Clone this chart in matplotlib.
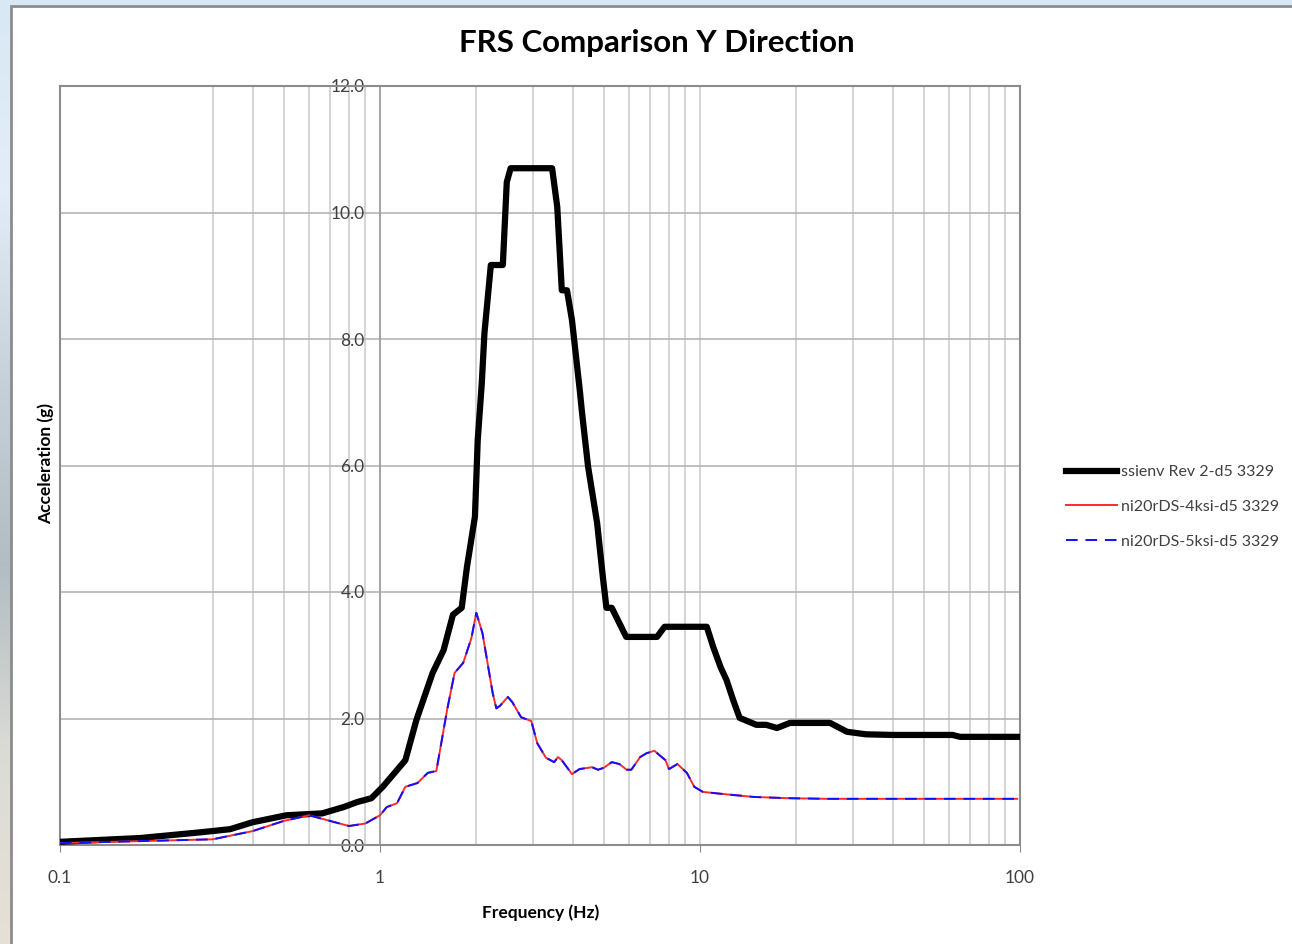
import numpy as np
import matplotlib
matplotlib.use("Agg")
import matplotlib.pyplot as plt
from matplotlib.patches import Rectangle
from matplotlib.ticker import FixedLocator, NullFormatter, FuncFormatter

# --- data ---
freq_env = [0.1, 0.178, 0.274, 0.34, 0.4, 0.51, 0.66, 0.77, 0.85, 0.94, 1.02,
            1.2, 1.3, 1.46, 1.58, 1.69, 1.80, 1.87, 1.98, 2.02, 2.08, 2.12,
            2.22, 2.42, 2.49, 2.56, 3.45, 3.58, 3.70, 3.84, 3.98, 4.21, 4.28,
            4.47, 4.77, 4.97, 5.1, 5.3, 5.88, 7.34, 7.75, 10.5, 11.0, 11.6,
            12.1, 12.7, 13.3, 15.0, 16.1, 17.4, 19.1, 25.5, 28.8, 33.0, 40.0,
            61.5, 65.0, 100.0]
acc_env = [0.05, 0.11, 0.20, 0.25, 0.36, 0.47, 0.50, 0.60, 0.68, 0.74, 0.92,
           1.34, 1.98, 2.72, 3.08, 3.64, 3.75, 4.40, 5.19, 6.40, 7.30, 8.09,
           9.17, 9.17, 10.48, 10.70, 10.70, 10.09, 8.77, 8.77, 8.30, 7.19, 6.83,
           5.98, 5.09, 4.24, 3.75, 3.75, 3.29, 3.29, 3.45, 3.45, 3.13, 2.81,
           2.61, 2.29, 2.01, 1.90, 1.90, 1.85, 1.93, 1.93, 1.79, 1.75, 1.74,
           1.74, 1.71, 1.71]

freq_ni = [0.1, 0.3, 0.4, 0.5, 0.6, 0.8, 0.9, 1.0, 1.05, 1.13, 1.2, 1.31, 1.41,
           1.5, 1.62, 1.71, 1.82, 1.93, 2.0, 2.09, 2.25, 2.31, 2.37, 2.51, 2.59,
           2.76, 2.97, 3.1, 3.3, 3.5, 3.6, 3.7, 3.98, 4.2, 4.6, 4.8, 5.0, 5.3,
           5.6, 5.9, 6.1, 6.5, 6.8, 7.2, 7.8, 8.0, 8.5, 9.1, 9.6, 10.2, 11.6,
           14.7, 18.8, 25.0, 98.0]
acc_4ksi = [0.03, 0.09, 0.22, 0.38, 0.47, 0.30, 0.34, 0.47, 0.60, 0.66, 0.92,
            0.98, 1.14, 1.17, 2.13, 2.72, 2.88, 3.27, 3.67, 3.35, 2.40, 2.16,
            2.20, 2.34, 2.26, 2.02, 1.96, 1.61, 1.38, 1.31, 1.39, 1.34, 1.12,
            1.20, 1.23, 1.19, 1.22, 1.31, 1.28, 1.19, 1.19, 1.39, 1.45, 1.49,
            1.34, 1.20, 1.28, 1.14, 0.92, 0.84, 0.81, 0.76, 0.74, 0.73, 0.73]
acc_5ksi = list(acc_4ksi)

labels = ["ssienv Rev 2-d5 3329", "ni20rDS-4ksi-d5 3329", "ni20rDS-5ksi-d5 3329"]
y_ticks = [0, 2, 4, 6, 8, 10, 12]
x_major = [0.1, 1, 10, 100]
# Excel left out the 0.2 line in the first decade
x_minor = [0.3, 0.4, 0.5, 0.6, 0.7, 0.8, 0.9] + \
          [m * d for d in (1, 10) for m in range(2, 10)]

W, H = 1292, 944
fig = plt.figure(figsize=(W / 100, H / 100), dpi=100)
fig.patch.set_facecolor("#d8e7f5")
plt.rcParams['font.family'] = ['Lato', 'DejaVu Sans']

# background: photo-like strip on the left, white panel
bg = fig.add_axes([0, 0, 1, 1], zorder=-10)
bg.axis("off")
stops = np.array([
    [0.85, 0.91, 0.96],
    [0.89, 0.93, 0.97],
    [0.78, 0.82, 0.85],
    [0.70, 0.74, 0.76],
    [0.86, 0.86, 0.84],
    [0.90, 0.88, 0.84],
])
t = np.linspace(0, 1, 200)
grad = np.stack([np.interp(t, np.linspace(0, 1, len(stops)), stops[:, c]) for c in range(3)], axis=-1)
bg.imshow(grad[:, None, :], extent=[0, 12 / W, 0, 1], aspect="auto")
bg.set_xlim(0, 1)
bg.set_ylim(0, 1)
bg.add_patch(Rectangle((11 / W, -0.01), 1.0, (H - 6) / H + 0.01, facecolor="white",
                       edgecolor="#8c8c8c", linewidth=2, transform=bg.transAxes))

ax = fig.add_axes([60 / W, 1 - 845 / H, 960 / W, 759 / H])
ax.set_xscale("log")
ax.set_xlim(0.1, 100)
ax.set_ylim(0, 12)

ax.plot(freq_env, acc_env, color="black", linewidth=4.5, solid_joinstyle="round", label=labels[0], zorder=4)
ax.plot(freq_ni, acc_4ksi, color="#ff2a2a", linewidth=1.4, label=labels[1], zorder=5)
ax.plot(freq_ni, acc_5ksi, color="#1010ff", linewidth=1.4, dashes=(6, 4), label=labels[2], zorder=6)

# grid
ax.xaxis.set_major_locator(FixedLocator(x_major))
ax.xaxis.set_minor_locator(FixedLocator(x_minor))
ax.xaxis.set_minor_formatter(NullFormatter())
ax.xaxis.set_major_formatter(FuncFormatter(lambda v, p: f"{v:g}"))
ax.set_yticks(y_ticks)
ax.yaxis.set_major_formatter(FuncFormatter(lambda v, p: f"{v:.1f}"))
ax.grid(True, which="major", axis="y", color="#b4b4b4", linewidth=1.2)
ax.grid(True, which="both", axis="x", color="#cdcdcd", linewidth=1.2)
ax.set_axisbelow(True)

# y axis crosses at 1 Hz, like Excel does
ax.spines["left"].set_position(("data", 1))
ax.spines["left"].set_color("#a0a0a0")
ax.spines["left"].set_linewidth(1.3)
for s in ("top", "right", "bottom"):
    ax.spines[s].set_color("#8c8c8c")
    ax.spines[s].set_linewidth(1.5)
ax.plot([0, 0], [0, 1], transform=ax.transAxes, color="#8c8c8c", linewidth=1.5, clip_on=False)

ax.tick_params(axis="y", length=0, pad=11, labelsize=12.5, labelcolor="#404040")
ax.tick_params(axis="x", which="major", length=5, direction="out", color="#8c8c8c",
               pad=13, labelsize=12.5, labelcolor="#404040")
ax.tick_params(axis="x", which="minor", length=0)

fig.text(657 / W, 1 - 43 / H, "FRS Comparison Y Direction", ha="center", va="center",
         fontsize=22.5, fontweight="bold")
fig.text(541 / W, 1 - 913 / H, "Frequency (Hz)", ha="center", va="center",
         fontsize=12.5, fontweight="bold")
fig.text(46 / W, 1 - 464 / H, "Acceleration (g)", ha="center", va="center",
         fontsize=12.5, fontweight="bold", rotation=90)

fig.legend(loc="center left", bbox_to_anchor=(1066 / W, 1 - 507 / H), frameon=False,
           borderpad=0, borderaxespad=0, fontsize=11.5, handlelength=3.2,
           handletextpad=0.25, labelspacing=1.3, labelcolor="#404040")

fig.savefig("out.png", dpi=100, facecolor=fig.get_facecolor())
